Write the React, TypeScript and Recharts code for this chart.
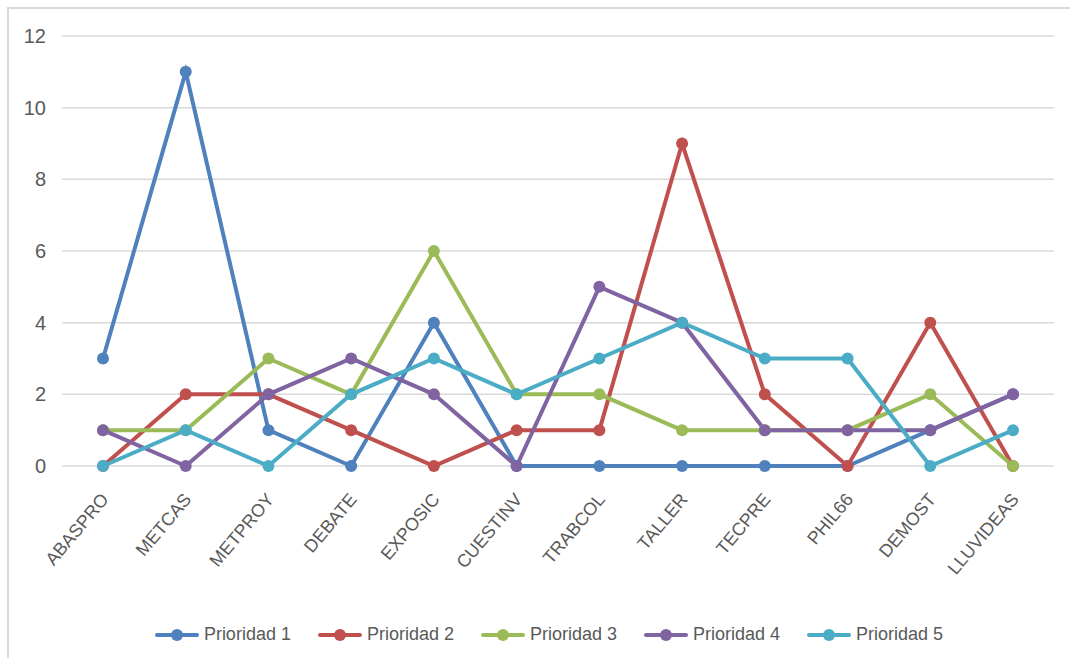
import { LineChart, Line, XAxis, YAxis, CartesianGrid, Legend } from 'recharts';

const categories = ['ABASPRO', 'METCAS', 'METPROY', 'DEBATE', 'EXPOSIC', 'CUESTINV', 'TRABCOL', 'TALLER', 'TECPRE', 'PHIL66', 'DEMOST', 'LLUVIDEAS'];

const prioridad1 = [3, 11, 1, 0, 4, 0, 0, 0, 0, 0, 1, 2];
const prioridad2 = [0, 2, 2, 1, 0, 1, 1, 9, 2, 0, 4, 0];
const prioridad3 = [1, 1, 3, 2, 6, 2, 2, 1, 1, 1, 2, 0];
const prioridad4 = [1, 0, 2, 3, 2, 0, 5, 4, 1, 1, 1, 2];
const prioridad5 = [0, 1, 0, 2, 3, 2, 3, 4, 3, 3, 0, 1];

const yTicks = [0, 2, 4, 6, 8, 10, 12];

const series = [
  { key: 'p1', name: 'Prioridad 1', color: '#4F81BD', values: prioridad1 },
  { key: 'p2', name: 'Prioridad 2', color: '#C0504D', values: prioridad2 },
  { key: 'p3', name: 'Prioridad 3', color: '#9BBB59', values: prioridad3 },
  { key: 'p4', name: 'Prioridad 4', color: '#8064A2', values: prioridad4 },
  { key: 'p5', name: 'Prioridad 5', color: '#4BACC6', values: prioridad5 },
];

const data = categories.map((cat, i) => {
  const row: Record<string, string | number> = { cat };
  series.forEach((s) => { row[s.key] = s.values[i]; });
  return row;
});

const FONT = '"Liberation Sans", Arial, sans-serif';

function XTick({ x, y, payload }: { x?: number; y?: number; payload?: { value: string } }) {
  const tx = (x ?? 0) + 2;
  const ty = (y ?? 0) + 22;
  return (
    <text
      x={tx}
      y={ty}
      transform={`rotate(-50, ${tx}, ${ty})`}
      textAnchor="end"
      dominantBaseline="central"
      fill="#595959"
      fontSize={18}
      fontFamily={FONT}
    >
      {payload?.value}
    </text>
  );
}

function LegendContent() {
  return (
    <div style={{ display: 'flex', justifyContent: 'center', gap: 27, fontFamily: FONT, fontSize: 18, color: '#595959', paddingLeft: 44 }}>
      {series.map((s) => (
        <div key={s.key} style={{ display: 'flex', alignItems: 'center', gap: 5 }}>
          <svg width={44} height={14}>
            <line x1={2} y1={7} x2={42} y2={7} stroke={s.color} strokeWidth={4} strokeLinecap="round" />
            <circle cx={22} cy={7} r={6} fill={s.color} />
          </svg>
          <span>{s.name}</span>
        </div>
      ))}
    </div>
  );
}

export default function App() {
  return (
    <div style={{ position: 'absolute', left: 0, top: 0, width: 1070, height: 658, background: '#fff' }}>
      <div style={{ position: 'absolute', left: 7, top: 7, right: 0, bottom: 0, borderTop: '2px solid #d9d9d9', borderLeft: '2px solid #d9d9d9' }} />
      <LineChart width={1070} height={658} data={data} margin={{ top: 36, right: 16, left: 0, bottom: 4 }} style={{ position: 'absolute', left: 0, top: 0 }}>
        <CartesianGrid vertical={false} stroke="#d9d9d9" strokeWidth={1.5} />
        <XAxis
          dataKey="cat"
          interval={0}
          padding={{ left: 41, right: 41 }}
          axisLine={false}
          tickLine={false}
          tick={<XTick />}
          height={158}
        />
        <YAxis
          domain={[0, 12]}
          ticks={yTicks}
          width={62}
          axisLine={false}
          tickLine={false}
          tickMargin={10}
          tick={{ fill: '#595959', fontSize: 20, fontFamily: FONT }}
        />
        <Legend verticalAlign="bottom" height={30} content={<LegendContent />} />
        {series.map((s) => (
          <Line
            key={s.key}
            dataKey={s.key}
            name={s.name}
            stroke={s.color}
            strokeWidth={4}
            dot={{ r: 6, fill: s.color, stroke: s.color, strokeWidth: 0 }}
            activeDot={false}
            isAnimationActive={false}
          />
        ))}
      </LineChart>
    </div>
  );
}
